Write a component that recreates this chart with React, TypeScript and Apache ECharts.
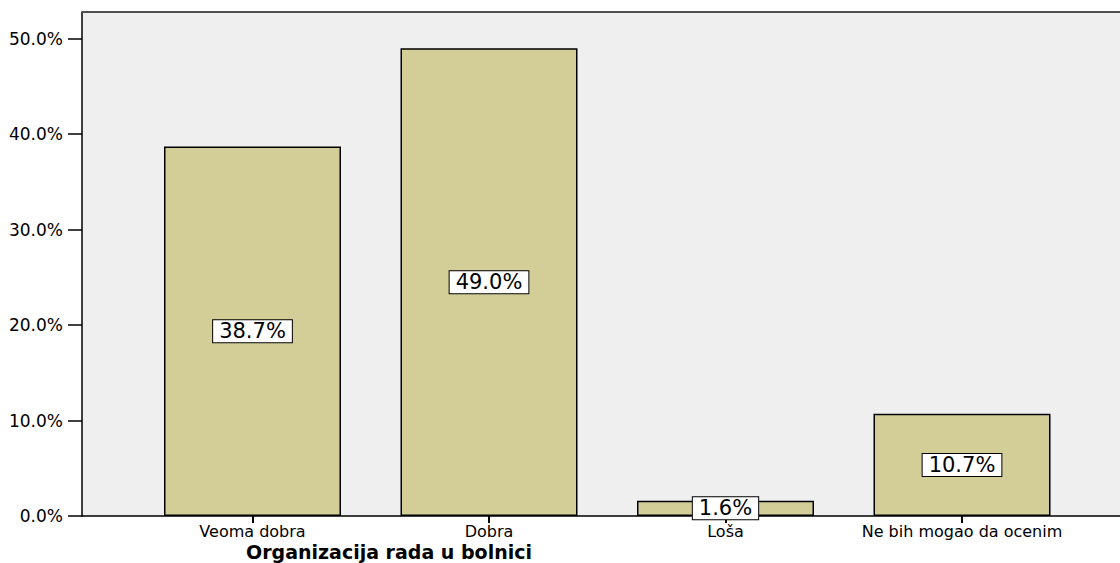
import React, { useEffect, useRef } from "react";
import * as echarts from "echarts";

const categories = ["Veoma dobra", "Dobra", "Loša", "Ne bih mogao da ocenim"];
const percentValues = [38.7, 49.0, 1.6, 10.7];
const yTickValues = [0, 10, 20, 30, 40, 50];
const xAxisTitle = "Organizacija rada u bolnici";

const FONT = "DejaVu Sans";

export default function App() {
  const ref = useRef<HTMLDivElement>(null);
  useEffect(() => {
    document.body.style.margin = "0";
    const chart = echarts.init(ref.current!, null, { renderer: "svg" });
    const yMax = 52.8;
    chart.setOption({
      animation: false,
      backgroundColor: "#ffffff",
      grid: [
        { left: 134.25, right: 39.75, top: 12, bottom: 47, show: false },
        {
          left: 82,
          right: 0,
          top: 12,
          bottom: 47,
          show: true,
          backgroundColor: "#efefef",
          borderWidth: 0,
          z: 0,
        },
      ],
      xAxis: [
        {
          type: "category",
          gridIndex: 0,
          data: categories,
          axisLine: { show: false },
          axisTick: {
            show: true,
            alignWithLabel: true,
            length: 7,
            lineStyle: { color: "#000", width: 2 },
          },
          axisLabel: {
            interval: 0,
            hideOverlap: false,
            color: "#000",
            fontFamily: FONT,
            fontSize: 16,
            lineHeight: 16,
            margin: 7,
          },
        },
        {
          type: "value",
          gridIndex: 1,
          min: 0,
          max: 1,
          axisLine: { show: true, lineStyle: { color: "#000", width: 1.5 } },
          axisTick: { show: false },
          axisLabel: { show: false },
          splitLine: { show: false },
        },
      ],
      yAxis: [
        {
          type: "value",
          gridIndex: 0,
          min: 0,
          max: yMax,
          show: false,
          splitLine: { show: false },
        },
        {
          type: "value",
          gridIndex: 1,
          min: 0,
          max: yMax,
          interval: 10,
          axisLine: { show: true, lineStyle: { color: "#000", width: 1.5 } },
          axisTick: {
            show: true,
            length: 14,
            customValues: yTickValues,
            lineStyle: { color: "#000", width: 1.5 },
          },
          axisLabel: {
            customValues: yTickValues,
            formatter: (v: number) => v.toFixed(1) + "%",
            color: "#000",
            fontFamily: FONT,
            fontSize: 17,
            margin: 19,
          },
          splitLine: { show: false },
        },
      ],
      series: [
        {
          type: "bar",
          xAxisIndex: 0,
          yAxisIndex: 0,
          data: percentValues,
          barWidth: 177,
          z: 5,
          itemStyle: {
            color: "#d3ce98",
            borderColor: "#000",
            borderWidth: 1.5,
          },
          label: {
            show: true,
            position: "inside",
            formatter: (p: any) => Number(p.value).toFixed(1) + "%",
            color: "#000",
            fontFamily: FONT,
            fontSize: 21,
            backgroundColor: "#ffffff",
            borderColor: "#000",
            borderWidth: 1,
            padding: [1, 6, 0, 6],
          },
        },
      ],
      graphic: [
        {
          type: "line",
          shape: { x1: 82, y1: 12, x2: 1120, y2: 12 },
          style: { stroke: "#505050", lineWidth: 2 },
          z: 10,
        },
        {
          type: "text",
          x: 389,
          y: 552,
          style: {
            text: xAxisTitle,
            fontFamily: FONT,
            fontWeight: "bold",
            fontSize: 19,
            fill: "#000",
            textAlign: "center",
            textVerticalAlign: "middle",
          },
        },
      ],
    });
    return () => chart.dispose();
  }, []);
  return (
    <div
      ref={ref}
      style={{ position: "absolute", left: 0, top: 0, width: 1120, height: 563 }}
    />
  );
}
